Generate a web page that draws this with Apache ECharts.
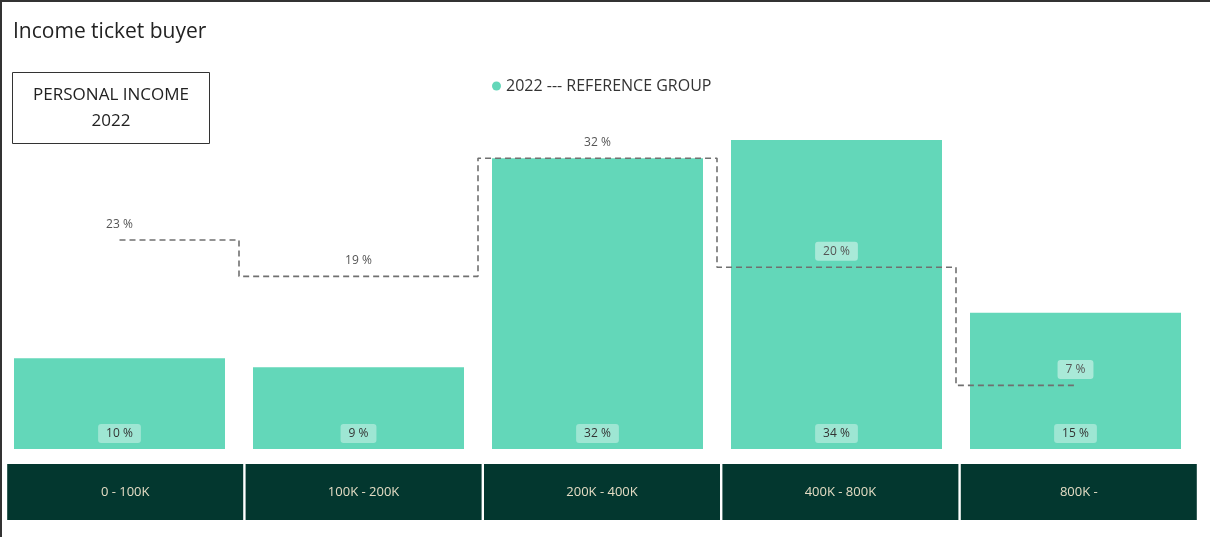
<!DOCTYPE html>
<html>
<head>
<meta charset="utf-8">
<script src="https://cdn.jsdelivr.net/npm/echarts@6/dist/echarts.min.js"></script>
<style>
html,body{margin:0;padding:0;background:#fff;}
#frame{position:absolute;left:0;top:0;width:1210px;height:537px;box-sizing:border-box;border-top:2px solid #333;border-left:2px solid #333;pointer-events:none;}
#chart{position:absolute;left:0;top:0;width:1210px;height:537px;}
</style>
</head>
<body>
<div id="chart"></div>
<div id="frame"></div>
<script>
const categories = ['0 - 100K', '100K - 200K', '200K - 400K', '400K - 800K', '800K -'];
const group2022 = [10, 9, 32, 34, 15];
const reference = [23, 19, 32, 20, 7];
const seriesName = '2022 --- REFERENCE GROUP';

const FONT = 'Open Sans, Lato, sans-serif';
const chart = echarts.init(document.getElementById('chart'));
chart.setOption({
  animation: false,
  title: [
    { text: 'Income ticket buyer', left: 8, top: 17,
      textStyle: { fontSize: 21, fontWeight: 'normal', color: '#222', fontFamily: FONT } },
    { text: 'PERSONAL INCOME\n2022', left: 90, top: 72, textAlign: 'center',
      borderWidth: 1, borderColor: '#333', padding: [10, 21, 10, 21],
      textStyle: { fontSize: 17, fontWeight: 'normal', color: '#222', lineHeight: 26, fontFamily: FONT } }
  ],
  legend: {
    data: [seriesName], top: 73, left: 487, icon: 'circle', itemWidth: 9, itemHeight: 9,
    itemGap: 7,
    textStyle: { fontSize: 16, color: '#333', fontFamily: FONT }
  },
  grid: [
    { left: 0, width: 1195, top: 131, bottom: 88 },
    { left: 6, width: 1192, top: 462, height: 1 }
  ],
  xAxis: [
    { type: 'category', data: categories, gridIndex: 0,
      axisLine: { show: false }, axisTick: { show: false }, axisLabel: { show: false } },
    { type: 'category', data: categories, gridIndex: 1, position: 'bottom',
      axisLine: { show: false }, axisTick: { show: false },
      axisLabel: { margin: 1, interval: 0, backgroundColor: '#03372f', color: '#e4dcc4',
        fontSize: 13, fontFamily: FONT, width: 236, height: 56, lineHeight: 56, align: 'center' } }
  ],
  yAxis: [
    { type: 'value', min: 0, max: 35, gridIndex: 0, show: false, splitLine: { show: false } },
    { type: 'value', gridIndex: 1, show: false, splitLine: { show: false } }
  ],
  series: [
    { name: seriesName, type: 'bar', data: group2022, barWidth: 211,
      itemStyle: { color: '#63d7b9' },
      label: { show: true, position: 'insideBottom', distance: 6, formatter: '{c} %',
        color: '#333', fontSize: 12, fontFamily: FONT,
        backgroundColor: 'rgba(255,255,255,0.38)', padding: [4, 8, 3, 8], borderRadius: 3 } },
    { name: 'Reference', type: 'line', data: reference, step: 'middle',
      symbol: 'circle', symbolSize: 1, showSymbol: true, z: 5,
      itemStyle: { color: 'rgba(0,0,0,0)' },
      lineStyle: { color: '#707070', width: 1.6, type: [6, 4] },
      label: { show: true, position: 'top', distance: 6, formatter: '{c} %',
        color: '#555', fontSize: 12, fontFamily: FONT,
        backgroundColor: 'rgba(255,255,255,0.45)', padding: [4, 8, 3, 8], borderRadius: 3 } }
  ]
});
</script>
</body>
</html>
